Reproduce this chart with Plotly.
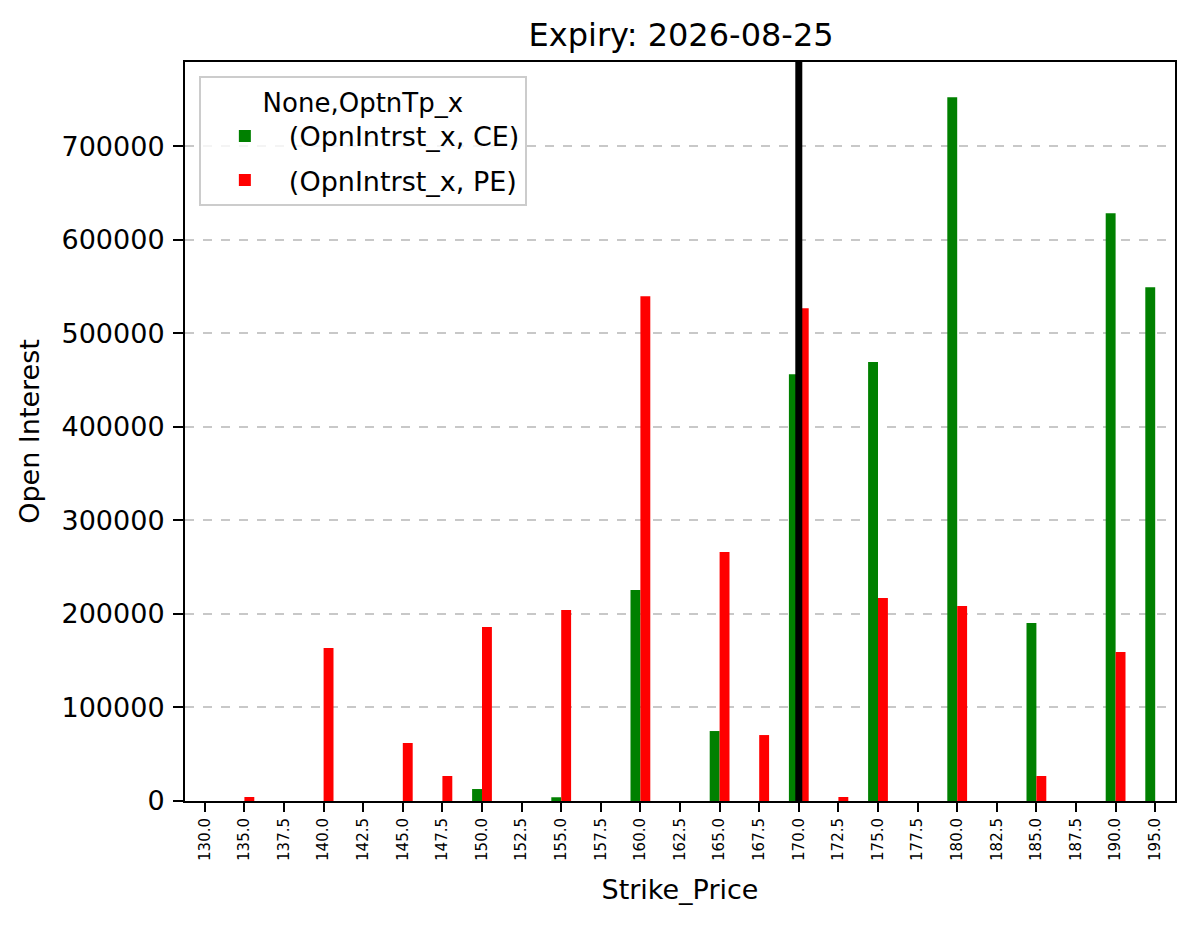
import plotly.graph_objects as go

strikes = ["130.0", "135.0", "137.5", "140.0", "142.5", "145.0", "147.5", "150.0",
           "152.5", "155.0", "157.5", "160.0", "162.5", "165.0", "167.5", "170.0",
           "172.5", "175.0", "177.5", "180.0", "182.5", "185.0", "187.5", "190.0", "195.0"]
ce_oi = [0, 0, 0, 0, 0, 0, 0, 12800, 0, 4000, 0, 225500, 0, 74800, 0, 456300,
         0, 469200, 0, 752400, 0, 190200, 0, 628400, 549300]
pe_oi = [0, 4300, 0, 163500, 0, 62000, 26700, 186000, 0, 204100, 0, 539700, 0, 266100, 70500, 526900,
         4300, 217000, 0, 208400, 0, 26700, 0, 159200, 0]
spot_strike = "170.0"
y_ticks = [0, 100000, 200000, 300000, 400000, 500000, 600000, 700000]

idx = list(range(len(strikes)))
font = "DejaVu Sans"

fig = go.Figure()
fig.add_trace(go.Bar(x=idx, y=ce_oi, name="(OpnIntrst_x, CE)", legendgroup="ce",
                     marker=dict(color="#008000", line=dict(width=0))))
fig.add_trace(go.Bar(x=idx, y=pe_oi, name="(OpnIntrst_x, PE)", legendgroup="pe",
                     marker=dict(color="#ff0000", line=dict(width=0))))

xv = strikes.index(spot_strike)
fig.add_shape(type="line", xref="x", yref="paper", x0=xv, x1=xv, y0=0, y1=1,
              line=dict(color="black", width=7))

ymax = max(max(ce_oi), max(pe_oi)) * 1.05

fig.update_layout(
    width=1197, height=928,
    margin=dict(l=185, r=22, t=62, b=127),
    paper_bgcolor="white", plot_bgcolor="white",
    font=dict(family=font, color="black", size=27),
    barmode="group", bargap=0.5, bargroupgap=0,
    title=dict(text="Expiry: 2026-08-25", x=0.569, xanchor="center", y=0.962, yanchor="middle",
               font=dict(size=32, family=font, color="black")),
    showlegend=True,
    legend=dict(
        x=0.014, y=0.981, xanchor="left", yanchor="top",
        bgcolor="rgba(255,255,255,0.8)", bordercolor="#cccccc", borderwidth=2,
        font=dict(size=27, family=font),
        title=dict(text="None,OptnTp_x", side="top center", font=dict(size=26, family=font)),
        itemwidth=78, tracegroupgap=6,
    ),
    xaxis=dict(
        range=[-0.5, len(strikes) - 0.5],
        tickmode="array", tickvals=idx, ticktext=strikes, tickangle=-90,
        tickfont=dict(size=15, family=font),
        ticks="outside", ticklen=9, tickwidth=2, tickcolor="black",
        showline=True, linecolor="black", linewidth=2, mirror=True,
        showgrid=False, zeroline=False,
        title=dict(text="Strike_Price", font=dict(size=27, family=font), standoff=20),
    ),
    yaxis=dict(
        range=[0, ymax],
        tickmode="array", tickvals=y_ticks, ticktext=[str(v) for v in y_ticks],
        tickfont=dict(size=27, family=font),
        ticks="outside", ticklen=10, tickwidth=2, tickcolor="black",
        showline=True, linecolor="black", linewidth=2, mirror=True,
        showgrid=True, gridcolor="rgba(176,176,176,0.7)", griddash="dash", gridwidth=1.5,
        zeroline=False, ticklabelstandoff=3,
        title=dict(text="Open Interest", font=dict(size=27, family=font), standoff=14),
    ),
)

fig.write_html("out.html")
